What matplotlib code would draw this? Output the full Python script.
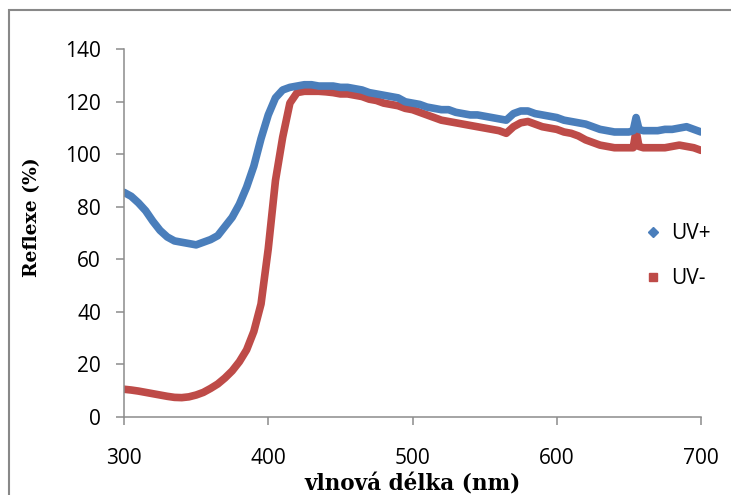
import matplotlib
matplotlib.use('Agg')
import matplotlib.pyplot as plt
from matplotlib.lines import Line2D
from matplotlib.patches import Rectangle

# wavelength (nm) and reflectance (%)
wavelength = [300, 305, 310, 315, 320, 325, 330, 335, 340, 345, 350, 355, 360, 365, 370,
              375, 380, 385, 390, 395, 400, 405, 410, 415, 420, 425, 430, 435, 440, 445,
              450, 455, 460, 465, 470, 475, 480, 485, 490, 495, 500, 505, 510, 515, 520,
              525, 530, 535, 540, 545, 550, 555, 560, 565, 570, 575, 580, 585, 590, 595,
              600, 605, 610, 615, 620, 625, 630, 635, 640, 645, 650, 653, 655, 657, 660,
              665, 670, 675, 680, 685, 690, 695, 700]

uv_plus = [85.5, 84, 81.5, 78.5, 74.5, 71, 68.5, 67, 66.5, 66, 65.5, 66.5, 67.5, 69, 72.5,
           76, 81, 87.5, 95.5, 106, 115, 121.5, 124.5, 125.5, 126, 126.5, 126.5, 126, 126, 126,
           125.5, 125.5, 125, 124.5, 123.5, 123, 122.5, 122, 121.5, 120, 119.5, 119, 118, 117.5, 117,
           117, 116, 115.5, 115, 115, 114.5, 114, 113.5, 113, 115.5, 116.5, 116.5, 115.5, 115, 114.5,
           114, 113, 112.5, 112, 111.5, 110.5, 109.5, 109, 108.5, 108.5, 108.5, 109, 114, 109.5, 109,
           109, 109, 109.5, 109.5, 110, 110.5, 109.5, 108.5]

uv_minus = [10.5, 10.2, 9.8, 9.3, 8.8, 8.3, 7.8, 7.4, 7.3, 7.6, 8.3, 9.3, 10.8, 12.5, 14.8,
            17.5, 21, 25.5, 32.5, 43, 64, 90, 106.5, 119.5, 123.5, 124, 124, 124, 123.8, 123.5,
            123, 123, 122.5, 122, 121, 120.5, 119.5, 119, 118.5, 117.5, 117, 116, 115, 114, 113,
            112.5, 112, 111.5, 111, 110.5, 110, 109.5, 109, 108, 110.5, 112, 112.5, 111.5, 110.5, 110,
            109.5, 108.5, 108, 107, 105.5, 104.5, 103.5, 103, 102.5, 102.5, 102.5, 102.5, 109, 103, 102.5,
            102.5, 102.5, 102.5, 103, 103.5, 103, 102.5, 101.5]

xticks = [300, 400, 500, 600, 700]
yticks = [0, 20, 40, 60, 80, 100, 120, 140]

blue = '#4a7ebb'
red = '#be4b48'
grey = '#8c8c8c'

plt.rcParams['font.family'] = ['Open Sans', 'DejaVu Sans']

fig = plt.figure(figsize=(7.31, 4.95), dpi=100)
ax = fig.add_axes([124/731, 1-416.8/495, 577/731, 367.5/495])

# outer chart frame like in Excel
fig.patches.append(Rectangle((9/731, -0.1), 1.2, 1.1 - 10/495, transform=fig.transFigure,
                             fill=False, edgecolor='#888888', linewidth=1.5))

ax.plot(wavelength, uv_minus, color=red, linewidth=5.5, solid_capstyle='round', solid_joinstyle='round')
ax.plot(wavelength, uv_plus, color=blue, linewidth=5.5, solid_capstyle='round', solid_joinstyle='round')

ax.set_xlim(300, 700)
ax.set_ylim(0, 140)
ax.set_xticks(xticks)
ax.set_yticks(yticks)
ax.tick_params(axis='both', direction='out', length=5.5, width=1.1, color=grey,
               labelsize=15, labelcolor='black')
ax.tick_params(axis='y', pad=11)
ax.tick_params(axis='x', pad=17)
for s in ['top', 'right']:
    ax.spines[s].set_visible(False)
for s in ['left', 'bottom']:
    ax.spines[s].set_color(grey)
    ax.spines[s].set_linewidth(1.1)

fig.text(412.5/731, 1-490/495, 'vlnová délka (nm)', ha='center', va='baseline',
         fontsize=15.5, fontweight='bold', family='DejaVu Serif')
fig.text(32/731, 1-217/495, 'Reflexe (%)', ha='center', va='center', rotation=90,
         fontsize=13.5, fontweight='bold', family='DejaVu Serif')

handles = [Line2D([], [], linestyle='none', marker='D', markersize=5, color=blue),
           Line2D([], [], linestyle='none', marker='s', markersize=5.5, color=red)]
ax.legend(handles, ['UV+', 'UV-'], loc='center left', bbox_to_anchor=(634/731, 1-256/495),
          bbox_transform=fig.transFigure, frameon=False, fontsize=15, handlelength=0.8,
          handletextpad=0.5, labelspacing=1.15, borderpad=0)

fig.savefig('out.png', dpi=100)
